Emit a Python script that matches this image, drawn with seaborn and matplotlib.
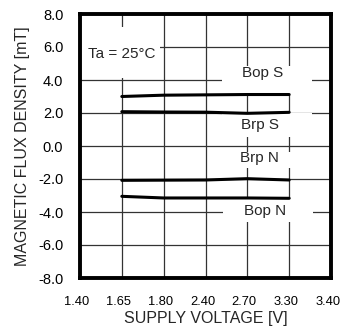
import matplotlib
matplotlib.use("Agg")
import matplotlib.pyplot as plt
import matplotlib.transforms as mtransforms
from matplotlib.patches import Rectangle
import seaborn as sns
import pandas as pd

x_tick_labels = ["1.40", "1.65", "1.80", "2.40", "2.70", "3.30", "3.40"]
voltages = ["1.65", "1.80", "2.40", "2.70", "3.30"]
bop_s = [3.00, 3.08, 3.10, 3.12, 3.12]
brp_s = [2.08, 2.06, 2.05, 1.98, 2.04]
brp_n = [-2.08, -2.07, -2.06, -1.98, -2.06]
bop_n = [-3.05, -3.15, -3.15, -3.15, -3.17]
y_ticks = [-8, -6, -4, -2, 0, 2, 4, 6, 8]

sns.set_style("white")
plt.rcParams['font.family'] = ['Liberation Sans', 'DejaVu Sans']

rows = []
for name, vals in [("Bop S", bop_s), ("Brp S", brp_s), ("Brp N", brp_n), ("Bop N", bop_n)]:
    for v, y in zip(voltages, vals):
        rows.append({"series": name, "pos": x_tick_labels.index(v), "value": y})
df = pd.DataFrame(rows)

fig = plt.figure(figsize=(3.42, 3.34), dpi=100)
ax = fig.add_axes([80/342, 1 - 278/334, 251/342, 264/334])

sns.lineplot(data=df, x="pos", y="value", units="series", estimator=None,
             color="black", linewidth=2.2, ax=ax, legend=False, zorder=3)

ax.set_xlim(0, len(x_tick_labels) - 1)
ax.set_ylim(-8, 8)
ax.set_xticks(range(len(x_tick_labels)))
ax.set_xticklabels(x_tick_labels)
ax.set_yticks(y_ticks)
ax.set_yticklabels([f"{t:.1f}" for t in y_ticks])
ax.tick_params(axis="x", length=0, labelsize=9.3, colors="black", pad=13)
ax.tick_params(axis="y", length=0, labelsize=10.5, colors="black", pad=12)
shift = mtransforms.ScaledTranslation(-3/100, 0, fig.dpi_scale_trans)
for lbl in ax.get_xticklabels():
    lbl.set_transform(lbl.get_transform() + shift)
ax.grid(True, color="#333333", linewidth=0.9, zorder=1)
ax.set_axisbelow(True)
for s in ax.spines.values():
    s.set_color("black")
    s.set_linewidth(2.8)
    s.set_visible(True)

ax.set_xlabel("SUPPLY VOLTAGE [V]", fontsize=11.5, labelpad=2)
ax.set_ylabel("MAGNETIC FLUX DENSITY [mT]", fontsize=11.5, labelpad=6)

# white label backgrounds (annotation boxes breaking the grid)
for (x0, y0, w, h) in [(0.0, 4.12, 1.91, 3.1), (3.39, 3.09, 2.16, 1.76),
                       (3.39, 0.55, 2.16, 1.42), (3.39, -1.33, 2.16, 0.97),
                       (3.43, -4.6, 2.13, 1.38)]:
    ax.add_patch(Rectangle((x0, y0), w, h, facecolor="white", edgecolor="none", zorder=2))

ax.text(0.2, 5.6, "Ta = 25°C", fontsize=11, ha="left", va="center", zorder=4)
ax.text(4.37, 4.42, "Bop S", fontsize=11, ha="center", va="center", zorder=4)
ax.text(4.30, 1.27, "Brp S", fontsize=11, ha="center", va="center", zorder=4)
ax.text(4.30, -0.73, "Brp N", fontsize=11, ha="center", va="center", zorder=4)
ax.text(4.43, -3.94, "Bop N", fontsize=11, ha="center", va="center", zorder=4)

fig.savefig("out.png", dpi=100)
